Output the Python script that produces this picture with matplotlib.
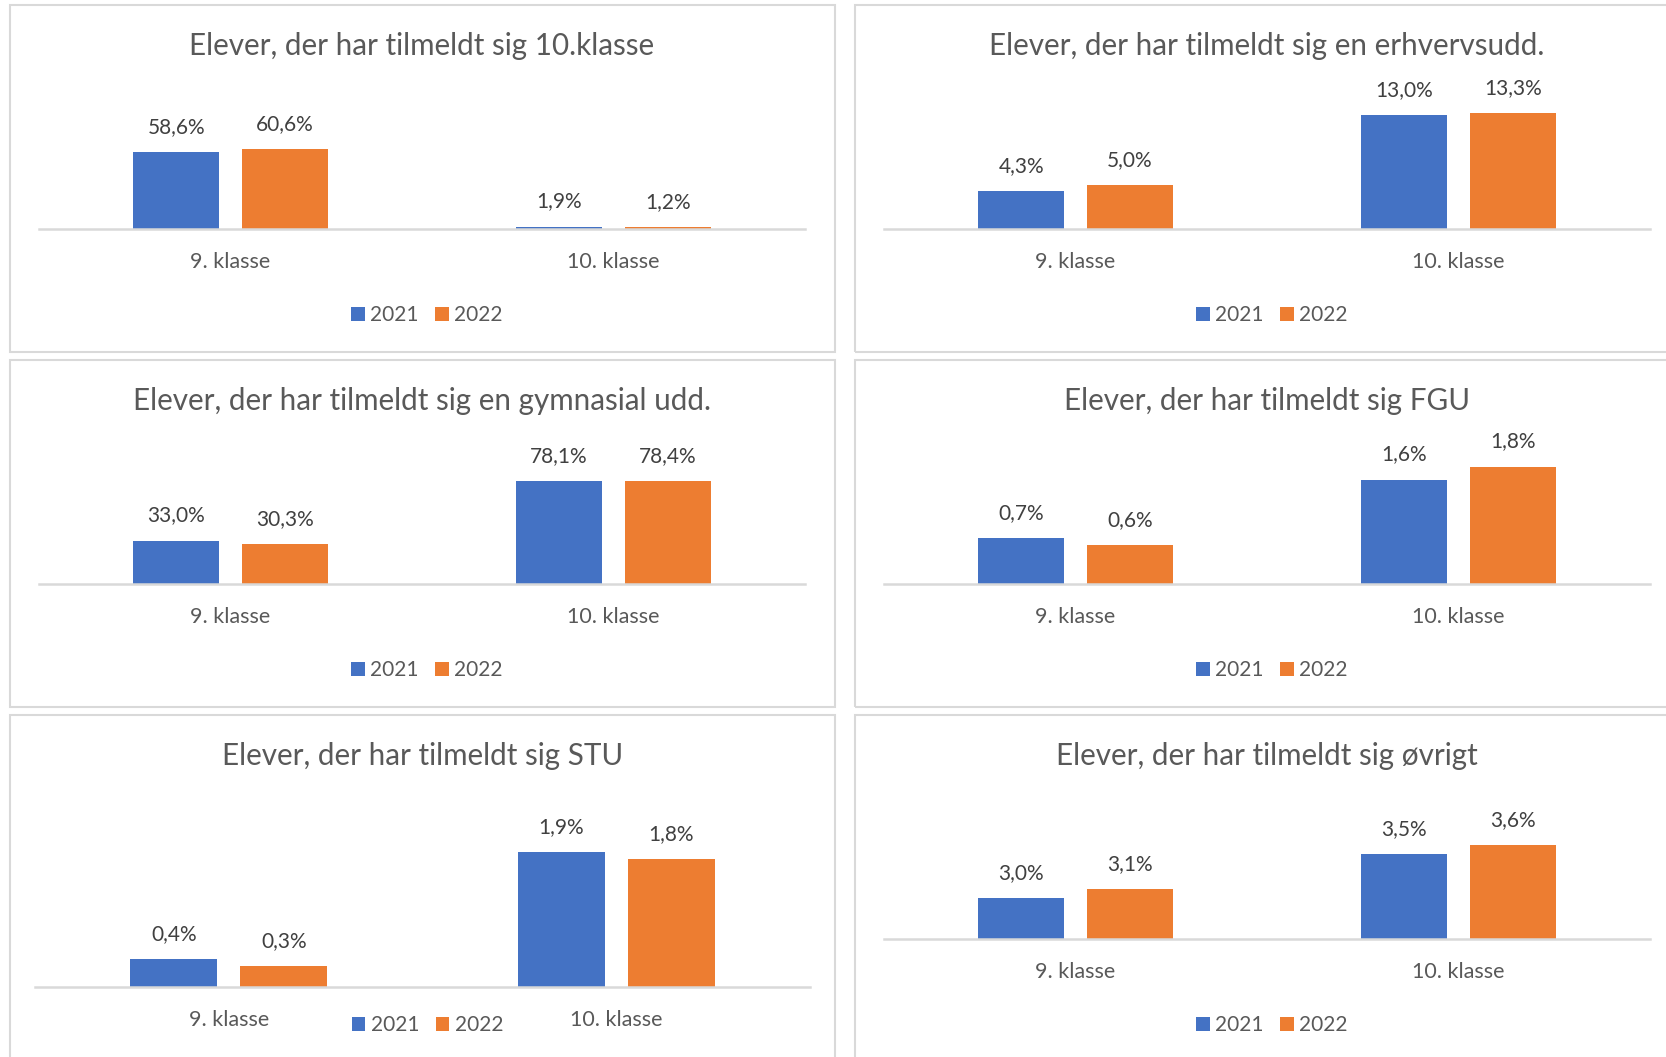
import matplotlib
matplotlib.use("Agg")
import matplotlib.pyplot as plt
import numpy as np
from matplotlib.patches import Rectangle, Patch


W, H = 1666, 1057
DPI = 100

CATEGORIES = ["9. klasse", "10. klasse"]
YEARS = ["2021", "2022"]

TITLES = [
    "Elever, der har tilmeldt sig 10.klasse",
    "Elever, der har tilmeldt sig en erhvervsudd.",
    "Elever, der har tilmeldt sig en gymnasial udd.",
    "Elever, der har tilmeldt sig FGU",
    "Elever, der har tilmeldt sig STU",
    "Elever, der har tilmeldt sig øvrigt",
]
VALUES_2021 = [
    [58.6, 1.9],
    [4.3, 13.0],
    [33.0, 78.1],
    [0.7, 1.6],
    [0.4, 1.9],
    [3.0, 3.5],
]
VALUES_2022 = [
    [60.6, 1.2],
    [5.0, 13.3],
    [30.3, 78.4],
    [0.6, 1.8],
    [0.3, 1.8],
    [3.1, 3.6],
]

BLUE = "#4472C4"
ORANGE = "#ED7D31"
GRID_GRAY = "#D9D9D9"
TEXT_GRAY = "#595959"
LABEL_GRAY = "#404040"

PANEL_W, PANEL_H = 825, 347
PLOT_TOP = 70

# panel left/top, axis left/width, baseline (from panel top), y limits
PANELS = [
    dict(left=10, top=5, ax_left=39, ax_w=766, base=224, ylim=(0, 117.3)),
    dict(left=855, top=5, ax_left=884, ax_w=766, base=224, ylim=(0, 17.63)),
    dict(left=10, top=360, ax_left=39, ax_w=766, base=224, ylim=(0, 117.0)),
    dict(left=855, top=360, ax_left=884, ax_w=766, base=224, ylim=(0, 2.36)),
    dict(left=10, top=715, ax_left=35, ax_w=775, base=272, ylim=(0, 2.85)),
    dict(left=855, top=715, ax_left=884, ax_w=766, base=224, ylim=(2.53, 4.28)),
]

BAR_W = 0.225
BAR_OFF = 0.142
SMALL = 15


def fmt(v):
    return f"{v:.1f}%".replace(".", ",")


def main():
    plt.rcParams["font.family"] = ["Lato", "DejaVu Sans"]
    fig = plt.figure(figsize=(W / DPI, H / DPI), dpi=DPI)
    fig.patch.set_facecolor("white")

    x = np.arange(len(CATEGORIES))

    for i, p in enumerate(PANELS):
        fig.add_artist(Rectangle(
            (p["left"] / W, 1 - (p["top"] + PANEL_H) / H),
            PANEL_W / W, PANEL_H / H,
            transform=fig.transFigure, facecolor="none",
            edgecolor=GRID_GRAY, linewidth=1.5,
        ))

        ax = fig.add_axes([
            p["ax_left"] / W,
            1 - (p["top"] + p["base"]) / H,
            p["ax_w"] / W,
            (p["base"] - PLOT_TOP) / H,
        ])
        ax.bar(x - BAR_OFF, VALUES_2021[i], width=BAR_W, color=BLUE)
        ax.bar(x + BAR_OFF, VALUES_2022[i], width=BAR_W, color=ORANGE)
        for xi, v in zip(x - BAR_OFF, VALUES_2021[i]):
            ax.annotate(fmt(v), (xi, v), xytext=(0, 18), textcoords="offset points",
                        ha="center", va="center", fontsize=SMALL, color=LABEL_GRAY)
        for xi, v in zip(x + BAR_OFF, VALUES_2022[i]):
            ax.annotate(fmt(v), (xi, v), xytext=(0, 18), textcoords="offset points",
                        ha="center", va="center", fontsize=SMALL, color=LABEL_GRAY)

        ax.set_xlim(-0.5, 1.5)
        ax.set_ylim(*p["ylim"])
        ax.set_xticks(x)
        ax.set_xticklabels(CATEGORIES, fontsize=15.5, color=TEXT_GRAY)
        ax.tick_params(axis="x", length=0, pad=16.5)
        ax.set_yticks([])
        for side in ["top", "left", "right"]:
            ax.spines[side].set_visible(False)
        ax.spines["bottom"].set_color(GRID_GRAY)
        ax.spines["bottom"].set_linewidth(1.8)
        ax.set_facecolor("none")

        cx = (p["ax_left"] + p["ax_w"] / 2) / W
        fig.text(cx, 1 - (p["top"] + 41) / H, TITLES[i], ha="center", va="center",
                 fontsize=21.3, color=TEXT_GRAY)

        handles = [Patch(facecolor=BLUE), Patch(facecolor=ORANGE)]
        fig.legend(handles, YEARS, loc="center", ncol=2, frameon=False,
                   bbox_to_anchor=(cx + 5 / W, 1 - (p["top"] + 310) / H),
                   fontsize=SMALL, labelcolor=TEXT_GRAY,
                   handlelength=0.65, handleheight=0.65, handletextpad=0.25,
                   columnspacing=0.8)

    fig.savefig("out.png", dpi=DPI, facecolor="white")


if __name__ == "__main__":
    main()
